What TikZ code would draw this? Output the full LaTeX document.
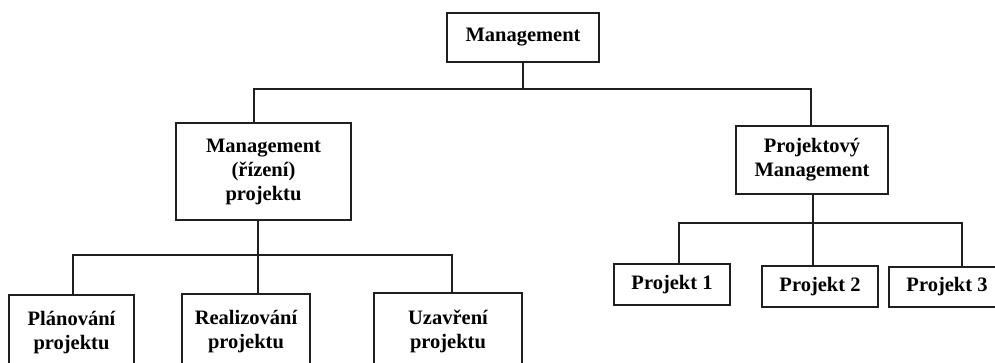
\documentclass[tikz,border=0pt]{standalone}
\usepackage{fontspec}
\setmainfont{Liberation Serif}
\usetikzlibrary{calc}
\begin{document}
\begin{tikzpicture}[x=1pt,y=-1pt,
  unit/.style n args={2}{draw=black!88, line width=1.1pt, fill=white,
    minimum width=#1, minimum height=#2, inner sep=0pt, align=center,
    font=\bfseries\fontsize{20.5}{24}\selectfont},
  link/.style={draw=black!88, line width=1.1pt}]
\useasboundingbox (0,0) rectangle (995,362);
\clip (0,0) rectangle (995,362);

% organisation boxes
\node[unit={152}{49}] (top) at (523,37.5) {Management};
\node[unit={175}{97}] (mp) at (263.5,171.5) {Management\\(řízení)\\projektu};
\node[unit={152}{68}] (pm) at (812,160) {Projektový\\Management};

\node[unit={125}{75}] (plan) at (71.5,332.5) {Plánování\\projektu};
\node[unit={128}{76}] (real) at (246,332) {Realizování\\projektu};
\node[unit={148}{77}] (uzav) at (448,331.5) {Uzavření\\projektu};

\node[unit={116}{41}] (p1) at (672,284.5) {Projekt 1};
\node[unit={116}{41}] (p2) at (820,286.5) {Projekt 2};
\node[unit={116}{40}] (p3) at (947,287) {Projekt 3};

% bus levels
\coordinate (busA) at (0,89);
\coordinate (busB) at (0,255);
\coordinate (busC) at (0,223);

% top level
\coordinate (a0) at (top.south);
\coordinate (aL) at ($(mp.north)+(-9.5,0)$);
\coordinate (aR) at ($(pm.north)+(-1,0)$);
\draw[link] (a0) -- (a0 |- busA);
\draw[link] (aL) -- (aL |- busA) -- (aR |- busA) -- (aR);

% project management branch
\coordinate (b0) at ($(mp.south)+(-5.5,0)$);
\coordinate (b1) at ($(plan.north)+(1.5,0)$);
\coordinate (b2) at ($(real.north)+(12,0)$);
\coordinate (b3) at ($(uzav.north)+(4,0)$);
\draw[link] (b0) -- (b0 |- busB);
\draw[link] (b1) -- (b1 |- busB) -- (b3 |- busB) -- (b3);
\draw[link] (b2) -- (b2 |- busB);

% project portfolio branch
\coordinate (c0) at ($(pm.south)+(1,0)$);
\coordinate (c1) at ($(p1.north)+(7,0)$);
\coordinate (c2) at ($(p2.north)+(-7,0)$);
\coordinate (c3) at ($(p3.north)+(15,0)$);
\draw[link] (c0) -- (c0 |- busC);
\draw[link] (c1) -- (c1 |- busC) -- (c3 |- busC) -- (c3);
\draw[link] (c2) -- (c2 |- busC);
\end{tikzpicture}
\end{document}
